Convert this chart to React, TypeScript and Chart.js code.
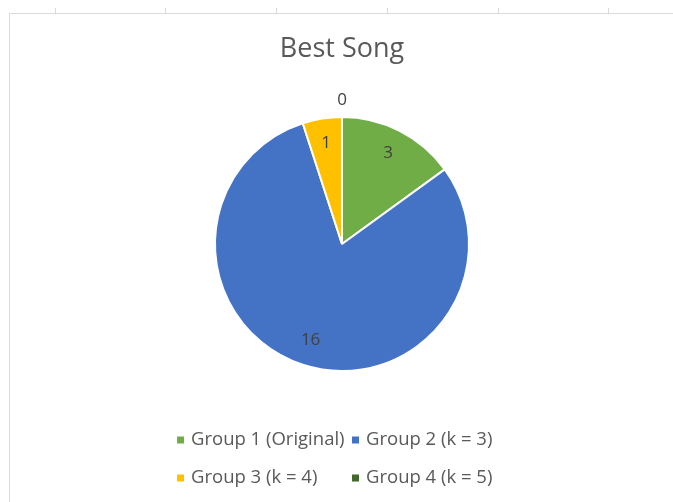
import React, { useEffect, useRef } from "react";
import { Chart, registerables } from "chart.js";

Chart.register(...registerables);

const chartTitle = "Best Song";
const groupLabels = [
  "Group 1 (Original)",
  "Group 2 (k = 3)",
  "Group 3 (k = 4)",
  "Group 4 (k = 5)",
];
const songCounts = [3, 16, 1, 0];
const sliceColors = ["#70AD47", "#4472C4", "#FFC000", "#43682B"];
const columnTickXs = [55, 165, 276, 387, 498, 608];

const FONT = "'Open Sans', 'Noto Sans', sans-serif";
const TEXT_GREY = "#595959";
const LABEL_GREY = "#404040";

// Sheet-style frame and column ticks behind the chart
const framePlugin = {
  id: "frame",
  beforeDraw(chart: any) {
    const ctx = chart.ctx;
    ctx.save();
    ctx.fillStyle = "#ffffff";
    ctx.fillRect(0, 0, chart.width, chart.height);
    ctx.strokeStyle = "#d9d9d9";
    ctx.lineWidth = 1;
    ctx.beginPath();
    ctx.moveTo(9.5, chart.height);
    ctx.lineTo(9.5, 13.5);
    ctx.lineTo(chart.width, 13.5);
    for (const x of columnTickXs) {
      ctx.moveTo(x + 0.5, 8);
      ctx.lineTo(x + 0.5, 13);
    }
    ctx.stroke();
    ctx.restore();
  },
};

// Title, slice value labels and a two-column legend
const overlayPlugin = {
  id: "overlay",
  afterDraw(chart: any) {
    const ctx = chart.ctx;
    const meta = chart.getDatasetMeta(0);
    ctx.save();

    ctx.fillStyle = TEXT_GREY;
    ctx.font = `27px ${FONT}`;
    ctx.textAlign = "center";
    ctx.textBaseline = "alphabetic";
    const cx = (chart.chartArea.left + chart.chartArea.right) / 2;
    ctx.fillText(chartTitle, cx, 57);

    ctx.textBaseline = "middle";
    ctx.font = `17px ${FONT}`;
    ctx.fillStyle = LABEL_GREY;
    meta.data.forEach((arc: any, i: number) => {
      const { x, y, startAngle, endAngle, outerRadius } = arc.getProps(
        ["x", "y", "startAngle", "endAngle", "outerRadius"],
        true
      );
      const mid = (startAngle + endAngle) / 2;
      const r = songCounts[i] === 0 ? outerRadius + 17 : outerRadius * 0.8;
      ctx.fillText(String(songCounts[i]), x + Math.cos(mid) * r, y + Math.sin(mid) * r);
    });

    ctx.font = `18.5px ${FONT}`;
    ctx.textAlign = "left";
    const colXs = [177, 352];
    const rowYs = [440, 478];
    groupLabels.forEach((label, i) => {
      const x = colXs[i % 2];
      const y = rowYs[Math.floor(i / 2)];
      ctx.fillStyle = sliceColors[i];
      ctx.fillRect(x, y - 3.5, 7, 7);
      ctx.fillStyle = TEXT_GREY;
      ctx.fillText(label, x + 14, y);
    });
    ctx.restore();
  },
};

export default function App() {
  const canvasRef = useRef<HTMLCanvasElement | null>(null);

  useEffect(() => {
    if (!canvasRef.current) return;
    const chart = new Chart(canvasRef.current, {
      type: "pie",
      data: {
        labels: groupLabels,
        datasets: [
          {
            data: songCounts,
            backgroundColor: sliceColors,
            borderColor: "#ffffff",
            borderWidth: 2,
          },
        ],
      },
      options: {
        animation: false,
        responsive: false,
        radius: 127,
        layout: { padding: { left: 215, right: 204, top: 117, bottom: 131 } },
        plugins: {
          legend: { display: false },
          title: { display: false },
          tooltip: { enabled: false },
        },
      },
      plugins: [framePlugin, overlayPlugin],
    });
    return () => chart.destroy();
  }, []);

  return (
    <div style={{ position: "fixed", left: 0, top: 0, width: 673, height: 502, background: "#fff" }}>
      <canvas ref={canvasRef} width={673} height={502} style={{ width: 673, height: 502 }} />
    </div>
  );
}
